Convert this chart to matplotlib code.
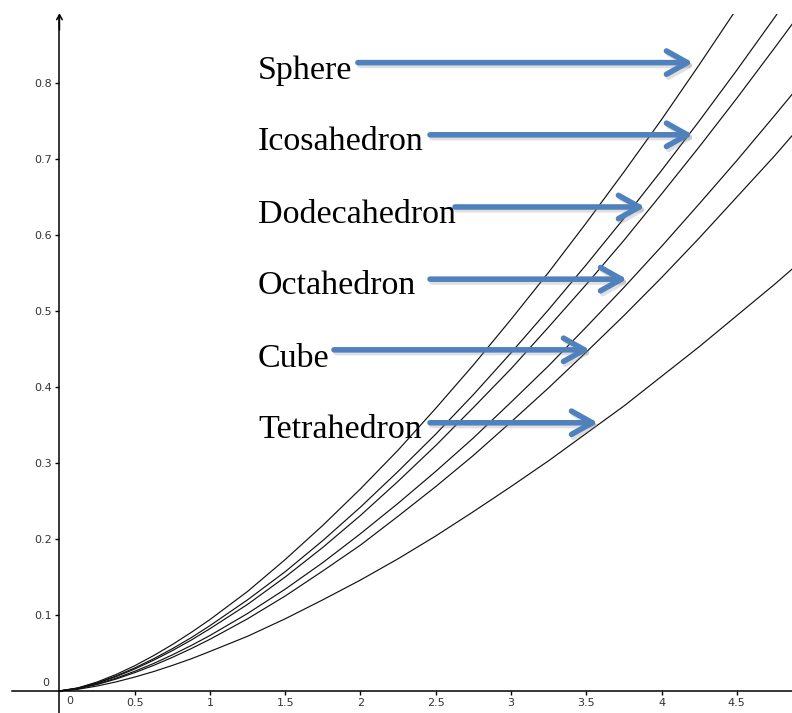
import matplotlib
matplotlib.use("Agg")
import matplotlib.pyplot as plt
import matplotlib.patheffects as pe

# surface area values (x) and the volume (y)
area = [0, 0.125, 0.25, 0.375, 0.5, 0.625, 0.75, 0.875, 1.0, 1.25, 1.5, 1.75, 2.0,
        2.25, 2.5, 2.75, 3.0, 3.25, 3.5, 3.75, 4.0, 4.25, 4.5, 4.75, 5.0]

sphere = [0, 0.0042, 0.0118, 0.0216, 0.0332, 0.0465, 0.0611, 0.0770, 0.094, 0.131,
          0.173, 0.218, 0.266, 0.317, 0.372, 0.429, 0.489, 0.551, 0.616, 0.683,
          0.752, 0.824, 0.898, 0.973, 1.051]
icosahedron = [0, 0.0038, 0.0107, 0.0197, 0.0303, 0.0423, 0.0556, 0.0701, 0.086, 0.120,
               0.157, 0.198, 0.242, 0.289, 0.338, 0.390, 0.445, 0.502, 0.561, 0.622,
               0.685, 0.750, 0.817, 0.886, 0.957]
dodecahedron = [0, 0.0036, 0.0102, 0.0188, 0.0289, 0.0404, 0.0531, 0.0669, 0.082, 0.114,
                0.150, 0.189, 0.231, 0.276, 0.323, 0.373, 0.424, 0.479, 0.535, 0.593,
                0.654, 0.716, 0.780, 0.846, 0.913]
octahedron = [0, 0.0032, 0.0091, 0.0168, 0.0259, 0.0361, 0.0475, 0.0598, 0.073, 0.102,
              0.134, 0.169, 0.207, 0.247, 0.289, 0.333, 0.380, 0.428, 0.479, 0.531,
              0.585, 0.641, 0.698, 0.757, 0.817]
cube = [0, 0.0030, 0.0085, 0.0156, 0.0241, 0.0336, 0.0442, 0.0557, 0.068, 0.095,
        0.125, 0.158, 0.192, 0.230, 0.269, 0.310, 0.354, 0.399, 0.446, 0.494,
        0.544, 0.596, 0.650, 0.704, 0.761]
tetrahedron = [0, 0.0023, 0.0065, 0.0119, 0.0183, 0.0255, 0.0336, 0.0423, 0.052, 0.072,
               0.095, 0.120, 0.146, 0.174, 0.204, 0.236, 0.269, 0.303, 0.339, 0.375,
               0.414, 0.453, 0.494, 0.535, 0.578]

curves = [sphere, icosahedron, dodecahedron, octahedron, cube, tetrahedron]
names = ["Sphere", "Icosahedron", "Dodecahedron", "Octahedron", "Cube", "Tetrahedron"]

# label position (left, baseline), arrow start and arrow tip x, arrow y
label_x = 1.319
label_y = [0.805, 0.712, 0.616, 0.522, 0.427, 0.333]
arrow_start = [1.983, 2.462, 2.628, 2.462, 1.824, 2.462]
arrow_tip = [4.209, 4.209, 3.890, 3.771, 3.525, 3.578]
arrow_y = [0.827, 0.732, 0.637, 0.542, 0.449, 0.353]

xticks = [0.5, 1, 1.5, 2, 2.5, 3, 3.5, 4, 4.5]
yticks = [0.1, 0.2, 0.3, 0.4, 0.5, 0.6, 0.7, 0.8]

fig = plt.figure(figsize=(7.92, 7.13), dpi=100)
# the drawing area stops 14 px under the top edge
ax = fig.add_axes([0, 0, 1, 699 / 713])
ax.set_xlim(-0.395, 4.867)
ax.set_ylim(-0.029, 0.891)

for c in curves:
    ax.plot(area, c, color="#111111", lw=0.85)

# geogebra style axes through the origin
for s in ["top", "right"]:
    ax.spines[s].set_visible(False)
ax.spines["left"].set_position(("data", 0))
ax.spines["bottom"].set_position(("data", 0))
ax.spines["left"].set_bounds(-0.03, 0.889)
ax.spines["bottom"].set_bounds(-0.316, 4.9)
ax.spines["left"].set_linewidth(1.1)
ax.spines["bottom"].set_linewidth(1.1)
ax.annotate("", xy=(0, 0.892), xytext=(0, 0.87),
            arrowprops=dict(arrowstyle="->,head_length=0.35,head_width=0.2",
                            color="black", lw=1.1, shrinkA=0, shrinkB=0),
            annotation_clip=False)

ax.set_xticks(xticks)
ax.set_xticklabels([f"{t:g}" for t in xticks])
ax.set_yticks(yticks)
ax.set_yticklabels([f"{t:g}" for t in yticks])
ax.tick_params(direction="out", length=3.2, width=1, labelsize=8,
               labelcolor="#333333", pad=2)
ax.text(0.045, -0.006, "0", ha="left", va="top", fontsize=8, color="#333333")
ax.text(-0.07, 0.004, "0", ha="right", va="bottom", fontsize=8, color="#333333")

for name, ly, x0, x1, ay in zip(names, label_y, arrow_start, arrow_tip, arrow_y):
    ax.text(label_x, ly, name, fontsize=24.5, family="Liberation Serif",
            ha="left", va="baseline", color="black")
    ax.annotate("", xy=(x1, ay), xytext=(x0, ay),
                arrowprops=dict(arrowstyle="->,head_length=0.75,head_width=0.42",
                                color="#4f81bd", lw=4.0, shrinkA=0, shrinkB=0,
                                mutation_scale=20,
                                path_effects=[pe.SimpleLineShadow(offset=(1.5, -2),
                                                                  shadow_color="gray", alpha=0.25),
                                              pe.Normal()]))

fig.savefig("out.png", dpi=100)
